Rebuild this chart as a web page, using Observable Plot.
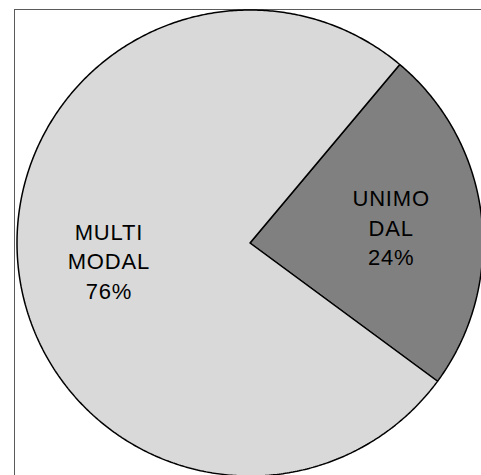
<!DOCTYPE html>
<html>
<head>
<meta charset="utf-8">
<script src="https://cdn.jsdelivr.net/npm/d3@7"></script>
<script src="https://cdn.jsdelivr.net/npm/@observablehq/plot@0.6"></script>
<style>
  html, body { margin: 0; padding: 0; background: #fff; overflow: hidden; }
  #chart svg { max-width: none !important; display: block; }
  #chart svg text { letter-spacing: 0.8px; }
</style>
</head>
<body>
<div id="chart"></div>
<script>
const categories = ["UNIMODAL", "MULTIMODAL"];
const values = [24, 76];
const labelLines = [["UNIMO", "DAL", "24%"], ["MULTI", "MODAL", "76%"]];
const sliceColors = ["#808080", "#d9d9d9"];

const W = 495, H = 490;
const mLeft = 14, mTop = 9;
const cx = 249.5, cy = 242.5, R = 233;
const startDeg = 40;

const pie = d3.pie().sort(null)
  .startAngle(startDeg * Math.PI / 180)
  .endAngle(startDeg * Math.PI / 180 + 2 * Math.PI)(values);

const slices = pie.map((p, i) => {
  const pts = [{x: 0, y: 0}];
  const n = Math.max(8, Math.ceil((p.endAngle - p.startAngle) / (Math.PI / 360)));
  for (let k = 0; k <= n; k++) {
    const a = p.startAngle + (p.endAngle - p.startAngle) * k / n;
    pts.push({x: Math.sin(a), y: Math.cos(a)});
  }
  pts.push({x: 0, y: 0});
  return {category: categories[i], color: sliceColors[i], pts};
});

const labels = pie.map((p, i) => {
  const a = (p.startAngle + p.endAngle) / 2;
  const rr = 0.61;
  return {x: rr * Math.sin(a), y: rr * Math.cos(a), text: labelLines[i].join("\n")};
});

const chart = Plot.plot({
  width: W,
  height: H,
  marginLeft: mLeft,
  marginTop: mTop,
  marginRight: 0,
  marginBottom: 0,
  x: {domain: [(mLeft - cx) / R, (W - cx) / R], axis: null},
  y: {domain: [-(H - cy) / R, (cy - mTop) / R], axis: null},
  style: {background: "#fff", overflow: "visible", maxWidth: "none"},
  marks: [
    Plot.frame({stroke: "#5a5a5a", strokeWidth: 1}),
    ...slices.map(s => Plot.line(s.pts, {
      x: "x", y: "y", fill: s.color, stroke: "#000",
      strokeWidth: 1.5, strokeLinejoin: "miter", curve: "linear"
    })),
    Plot.text(labels, {
      x: "x", y: "y", text: "text",
      fontSize: 22, fontFamily: "Liberation Sans, Arial, sans-serif",
      fill: "#000", lineHeight: 1.34, lineAnchor: "middle", textAnchor: "middle"
    })
  ]
});
chart.style.maxWidth = "none";
chart.style.width = W + "px";
chart.style.height = H + "px";
document.getElementById("chart").appendChild(chart);
</script>
</body>
</html>
